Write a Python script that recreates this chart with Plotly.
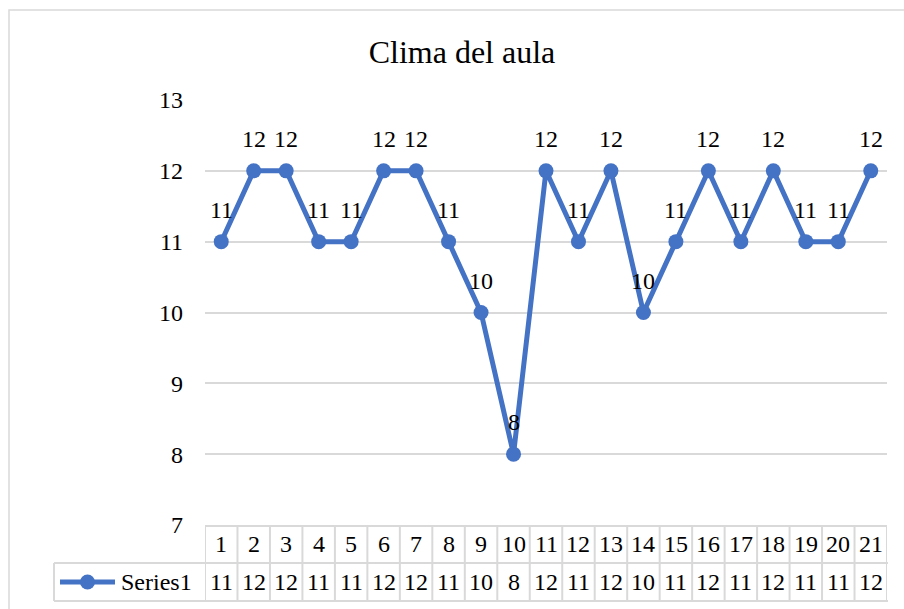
import plotly.graph_objects as go

categories = list(range(1, 22))
values = [11, 12, 12, 11, 11, 12, 12, 11, 10, 8, 12, 11, 12, 10, 11, 12, 11, 12, 11, 11, 12]
series_name = "Series1"
title_text = "Clima del aula"
y_ticks = [7, 8, 9, 10, 11, 12, 13]

FONT = "Liberation Serif, serif"
BLUE = "#4472C4"
GRID = "#d9d9d9"

W, H = 904, 609
L, R, T, B = 205, 17, 100, 84
PW, PH = W - L - R, H - T - B

def px_x(p):
    return (p - L) / PW

def px_y(p):
    return (H - B - p) / PH

fig = go.Figure()
fig.add_trace(go.Scatter(
    x=categories, y=values, mode="lines+markers",
    line=dict(color=BLUE, width=5),
    marker=dict(color=BLUE, size=15),
    name=series_name, hoverinfo="x+y",
))

ann = []
for c, v in zip(categories, values):
    ann.append(dict(x=c, y=v, text=str(v), showarrow=False, yshift=32,
                    xanchor="center", yanchor="middle",
                    font=dict(family=FONT, size=24, color="#000")))

# table
row1_top, row_mid, row2_bot = px_y(526), px_y(563), px_y(601)
shapes = []
n = len(categories)
for i in range(n + 1):
    shapes.append(dict(type="line", xref="x", yref="paper", x0=i + 0.5, x1=i + 0.5,
                       y0=row1_top, y1=row2_bot, line=dict(color=GRID, width=2)))
shapes.append(dict(type="line", xref="x", yref="paper", x0=0.5, x1=n + 0.5,
                   y0=row1_top, y1=row1_top, line=dict(color=GRID, width=2)))
leg_left = px_x(54)
for yy in (row_mid, row2_bot):
    shapes.append(dict(type="line", xref="paper", yref="paper", x0=leg_left, x1=1.0015,
                       y0=yy, y1=yy, line=dict(color=GRID, width=2)))
shapes.append(dict(type="line", xref="paper", yref="paper", x0=leg_left, x1=leg_left,
                   y0=row_mid, y1=row2_bot, line=dict(color=GRID, width=2)))
# legend key
leg_y = px_y(582)
shapes.append(dict(type="line", xref="paper", yref="paper", x0=px_x(60), x1=px_x(115),
                   y0=leg_y, y1=leg_y, line=dict(color=BLUE, width=5)))
shapes.append(dict(type="circle", xref="paper", yref="paper",
                   x0=px_x(80), x1=px_x(95), y0=px_y(574.5), y1=px_y(589.5),
                   fillcolor=BLUE, line=dict(color=BLUE, width=0)))
# outer frame
shapes.append(dict(type="rect", xref="paper", yref="paper", x0=px_x(9), x1=px_x(1000),
                   y0=px_y(10), y1=px_y(700), line=dict(color=GRID, width=1.5),
                   layer="below"))

r1c, r2c = px_y(544), px_y(582)
for c, v in zip(categories, values):
    ann.append(dict(x=c, y=r1c, xref="x", yref="paper", text=str(c), showarrow=False,
                    xanchor="center", yanchor="middle",
                    font=dict(family=FONT, size=24, color="#000")))
    ann.append(dict(x=c, y=r2c, xref="x", yref="paper", text=str(v), showarrow=False,
                    xanchor="center", yanchor="middle",
                    font=dict(family=FONT, size=24, color="#000")))
ann.append(dict(x=px_x(119), y=r2c, xref="paper", yref="paper", text=series_name,
                showarrow=False, xanchor="left", yanchor="middle",
                font=dict(family=FONT, size=24, color="#000")))

fig.update_layout(
    width=W, height=H,
    margin=dict(l=L, r=R, t=T, b=B),
    paper_bgcolor="white", plot_bgcolor="white",
    showlegend=False,
    title=dict(text=title_text, xref="container", yref="container",
               x=462 / W, y=1 - 52 / H, xanchor="center", yanchor="middle",
               font=dict(family=FONT, size=32, color="#000")),
    xaxis=dict(range=[0.5, n + 0.5], showticklabels=False, showgrid=False,
               zeroline=False, showline=False, fixedrange=True),
    yaxis=dict(range=[7, 13], tickvals=y_ticks, showgrid=True, gridcolor=GRID,
               gridwidth=1.5, zeroline=False, showline=False, ticks="",
               ticklabelstandoff=21,
               tickfont=dict(family=FONT, size=24, color="#000"), fixedrange=True),
    annotations=ann, shapes=shapes,
)
fig.write_html("out.html", config={"displayModeBar": False},
               post_script="document.body.style.margin='0';document.body.style.overflow='hidden';")
